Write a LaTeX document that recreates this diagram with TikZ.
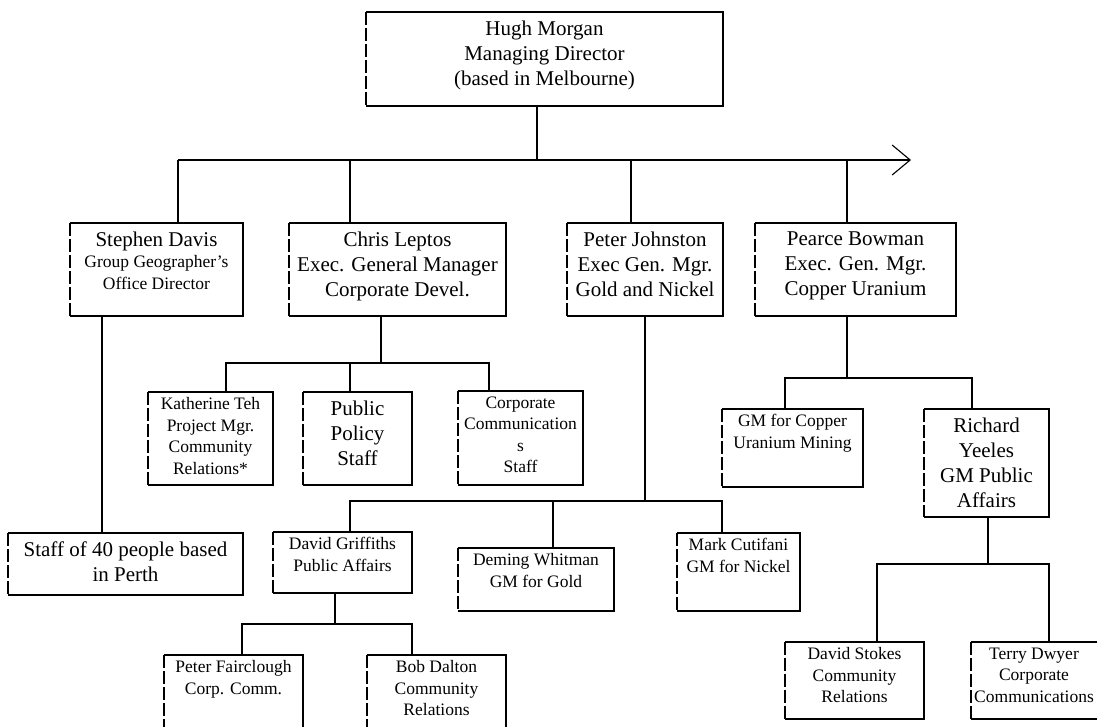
\documentclass[tikz,border=0pt]{standalone}
\usepackage{fontspec}
\setmainfont{Liberation Serif}
\usetikzlibrary{arrows.meta}

\begin{document}
\begin{tikzpicture}[x=1pt, y=-1pt, line width=1.1pt,
    box/.style 2 args={draw=none, minimum width=#1pt, minimum height=#2pt,
                       anchor=north west, inner sep=0pt, outer sep=0pt},
    bigtxt/.style={anchor=north, align=center, inner sep=8pt, font=\fontsize{21}{25}\selectfont},
    smalltxt/.style={anchor=north, align=center, inner sep=5pt, font=\fontsize{17.5}{21.5}\selectfont},
    leftedge/.style={dash pattern=on 13pt off 3pt}]

    \useasboundingbox (0,0) rectangle (1097,727);
    \fill[white] (0,0) rectangle (1097,727);
    \clip (0,0) rectangle (1097,727);

    % Boxes
    \node[box={357}{94}, label={[bigtxt]north:{Hugh Morgan\\Managing Director\\(based in Melbourne)}}] (hugh) at (366,12) {};
    \node[box={173}{93}, label={[smalltxt, inner sep=8pt]north:{{\fontsize{21}{22}\selectfont Stephen Davis}\\Group Geographer's\\Office Director}}] (stephen) at (70,223) {};
    \node[box={217}{93}, label={[bigtxt]north:{Chris Leptos\\Exec. General Manager\\Corporate Devel.}}] (chris) at (289,223) {};
    \node[box={156}{93}, label={[bigtxt]north:{Peter Johnston\\Exec Gen. Mgr.\\Gold and Nickel}}] (peter) at (567,223) {};
    \node[box={201}{93}, label={[bigtxt]north:{Pearce Bowman\\Exec. Gen. Mgr.\\Copper Uranium}}] (pearce) at (755,223) {};

    \node[box={125}{93}, label={[smalltxt]north:{Katherine Teh\\Project Mgr.\\Community\\Relations*}}] (kath) at (148,392) {};
    \node[box={109}{93}, label={[bigtxt]north:{Public\\Policy\\Staff}}] (policy) at (303,392) {};
    \node[box={125}{94}, label={[smalltxt]north:{Corporate\\Communication\\s\\Staff}}] (corpcomm) at (458,391) {};
    \node[box={141}{78}, label={[smalltxt]north:{GM for Copper\\Uranium Mining}}] (gmcu) at (722,409) {};
    \node[box={125}{108}, label={[bigtxt]north:{Richard\\Yeeles\\GM Public\\Affairs}}] (yeeles) at (924,409) {};

    \node[box={235}{62}, label={[bigtxt]north:{Staff of 40 people based\\in Perth}}] (staff) at (8,533) {};
    \node[box={139}{61}, label={[smalltxt]north:{David Griffiths\\Public Affairs}}] (griff) at (273,532) {};
    \node[box={156}{63}, label={[smalltxt]north:{Deming Whitman\\GM for Gold}}] (deming) at (458,548) {};
    \node[box={123}{78}, label={[smalltxt]north:{Mark Cutifani\\GM for Nickel}}] (mark) at (677,533) {};

    \node[box={139}{105}, label={[smalltxt]north:{Peter Fairclough\\Corp. Comm.}}] (fairc) at (164,655) {};
    \node[box={139}{105}, label={[smalltxt]north:{Bob Dalton\\Community\\Relations}}] (dalton) at (367,655) {};
    \node[box={139}{77}, label={[smalltxt]north:{David Stokes\\Community\\Relations}}] (stokes) at (785,642) {};
    \node[box={138}{77}, label={[smalltxt, xshift=-6pt]north:{Terry Dwyer\\Corporate\\Communications}}] (dwyer) at (971,642) {};

    % Box outlines, left side broken
    \foreach \b in {hugh,stephen,chris,peter,pearce,kath,policy,corpcomm,gmcu,yeeles,
                    staff,griff,deming,mark,fairc,dalton,stokes,dwyer}{
        \draw (\b.south west) -- (\b.south east) -- (\b.north east) -- (\b.north west);
        \draw[leftedge] (\b.north west) -- (\b.south west);
    }

    % Junctions
    \coordinate (jS) at (178,160);
    \coordinate (jC) at (350,160);
    \coordinate (jH) at (537,160);
    \coordinate (jP) at (631,160);
    \coordinate (jB) at (847,160);
    \coordinate (jE) at (911,160);
    \coordinate (sD) at (102,0);
    \coordinate (cD) at (381,363);
    \coordinate (cL) at (226,363);
    \coordinate (cM) at (350,363);
    \coordinate (cR) at (489,363);
    \coordinate (pD) at (645,501);
    \coordinate (pL) at (350,501);
    \coordinate (pM) at (553,501);
    \coordinate (pR) at (722,501);
    \coordinate (gD) at (335,624);
    \coordinate (gL) at (242,624);
    \coordinate (gR) at (412,624);
    \coordinate (bD) at (847,378);
    \coordinate (bL) at (785,378);
    \coordinate (bR) at (972,378);
    \coordinate (yD) at (988,564);
    \coordinate (yL) at (877,564);
    \coordinate (yR) at (1049,564);

    % Connectors
    \draw (hugh.south -| jH) -- (jH);
    \draw[-{Straight Barb[length=18pt, width=30pt]}] (jS) -- (jE);
    \draw (jS) -- (jS |- stephen.north);
    \draw (jC) -- (jC |- chris.north);
    \draw (jP) -- (jP |- peter.north);
    \draw (jB) -- (jB |- pearce.north);

    \draw (stephen.south -| sD) -- (staff.north -| sD);

    \draw (chris.south -| cD) -- (cD);
    \draw (cL |- kath.north) -- (cL) -- (cR) -- (cR |- corpcomm.north);
    \draw (cM) -- (cM |- policy.north);

    \draw (peter.south -| pD) -- (pD);
    \draw (pL |- griff.north) -- (pL) -- (pR) -- (pR |- mark.north);
    \draw (pM) -- (pM |- deming.north);

    \draw (griff.south -| gD) -- (gD);
    \draw (gL |- fairc.north) -- (gL) -- (gR) -- (gR |- dalton.north);

    \draw (pearce.south -| bD) -- (bD);
    \draw (bL |- gmcu.north) -- (bL) -- (bR) -- (bR |- yeeles.north);

    \draw (yeeles.south -| yD) -- (yD);
    \draw (yL |- stokes.north) -- (yL) -- (yR) -- (yR |- dwyer.north);

\end{tikzpicture}
\end{document}
